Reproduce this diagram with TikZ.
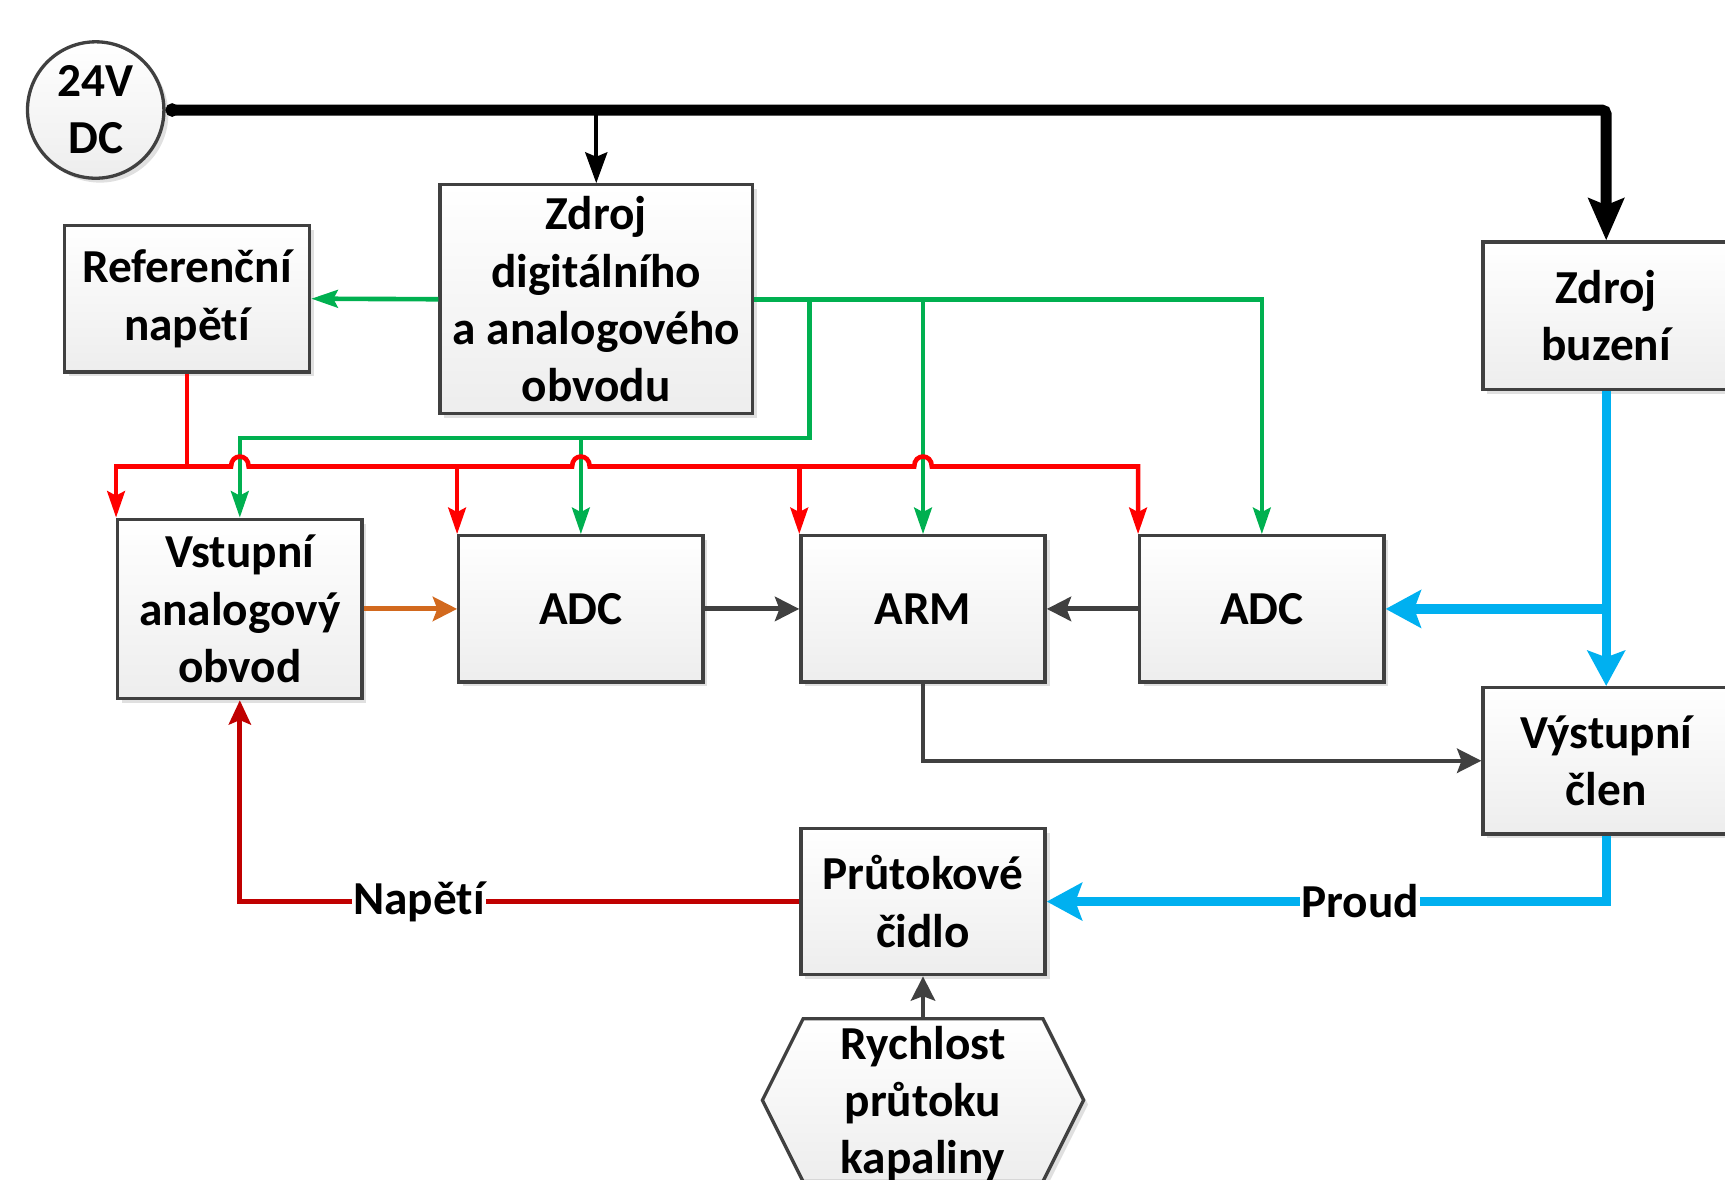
\documentclass[tikz,border=0pt]{standalone}
\usepackage{fontspec}
\setmainfont{Carlito}[Ligatures={NoCommon}]
\usetikzlibrary{arrows.meta,shadows}
\definecolor{boxc}{HTML}{404040}
\definecolor{grn}{HTML}{00B050}
\definecolor{rd}{HTML}{FF0000}
\definecolor{drd}{HTML}{C00000}
\definecolor{blu}{HTML}{00B0F0}
\definecolor{org}{HTML}{D2691E}
\definecolor{gry}{HTML}{404040}
\tikzset{
  txt/.style={font=\bfseries\fontsize{43}{52}\selectfont, align=center},
  box/.style={txt, draw=boxc, line width=3pt, top color=white, bottom color=black!7,
     general shadow={fill=black!12, shadow xshift=4pt, shadow yshift=-4pt},
     inner sep=0pt, minimum width=222pt, minimum height=133pt},
  gline/.style={draw=grn, line width=4.2pt, -{Stealth[length=24pt,width=16pt,inset=4pt]}},
  rline/.style={draw=rd, line width=4.2pt},
  rarr/.style={rline, -{Stealth[length=24pt,width=16pt,inset=4pt]}},
  garr/.style={draw=gry, line width=4.5pt, -{Stealth[length=22pt,width=22pt,inset=4pt]}},
  barr/.style={draw=blu, line width=8.5pt, -{Stealth[length=32pt,width=34pt,inset=6pt]}},
  lbl/.style={txt, fill=white, inner sep=1pt},
}
\begin{document}
\begin{tikzpicture}[x=1pt,y=-1pt]
\useasboundingbox (0,0) rectangle (1568,1072);
% nodes
\node[box, circle, minimum size=124pt, minimum width=124pt, minimum height=124pt] (dc) at (87,100) {24V\\DC};
\node[box, minimum width=223pt] (ref) at (170,271.5) {Referenční\\napětí};
\node[box, minimum width=284pt, minimum height=208pt] (zda) at (542,272) {Zdroj\\digitálního\\a analogového\\obvodu};
\node[box, minimum width=224pt, minimum height=134pt] (zb) at (1460,287) {Zdroj\\buzení};
\node[box, minimum height=163pt] (vao) at (218,553.5) {Vstupní\\analogový\\obvod};
\node[box] (adc1) at (528,553.5) {ADC};
\node[box] (arm) at (839,553.5) {ARM};
\node[box] (adc2) at (1147,553.5) {ADC};
\node[box, minimum width=224pt] (vc) at (1460,691.5) {Výstupní\\člen};
\node[box] (pc) at (839,819.5) {Průtokové\\čidlo};
% hexagon
\fill[black!12] (734,930) -- (952,930) -- (989,1004) -- (952,1078) -- (734,1078) -- (697,1004) -- cycle;
\shade[top color=white, bottom color=black!7, draw=boxc, line width=3pt, line join=miter]
  (730,926) -- (948,926) -- (985,1000) -- (948,1074) -- (730,1074) -- (693,1000) -- cycle;
\node[txt, minimum height=154pt, inner sep=0pt] (hex) at (839,1003) {Rychlost\\průtoku\\kapaliny};
% 24V bus
\draw[line width=10pt, rounded corners=4pt, {Circle[length=12pt]}-{Stealth[length=38pt,width=32pt,inset=6pt]}]
  (dc.east) -| (zb.north);
\draw[line width=3.5pt, -{Stealth[length=28pt,width=20pt,inset=4pt]}] (zda.north |- dc.east) -- (zda.north);
% green supply lines
\draw[gline] (zda.west) -- (ref.east);
\draw[gline] (zda.east) -| (adc2.north);
\draw[gline] (zda.east -| arm.north) -- (arm.north);
\coordinate (g1) at (736,272);
\coordinate (g2) at (736,398);
\draw[gline] (g1) -- (g2) -| (vao.north);
\draw[gline] (g2 -| adc1.north) -- (adc1.north);
% red reference lines
\coordinate (rr) at (170,424);
\draw[rline] (ref.south) -- (rr);
\draw[rarr] (rr) -| (vao.north west);
\draw[rarr] (rr) -- (210,424) .. controls (210,412) and (226,412) .. (226,424)
  -- (520,424) .. controls (520,412) and (536,412) .. (536,424)
  -- (831,424) .. controls (831,412) and (847,412) .. (847,424)
  -| (adc2.north west);
\draw[rarr] (adc1.north west |- rr) -- (adc1.north west);
\draw[rarr] (arm.north west |- rr) -- (arm.north west);
% signal path
\draw[draw=org, line width=4.5pt, -{Stealth[length=22pt,width=22pt,inset=4pt]}] (vao.east) -- (adc1.west);
\draw[garr] (adc1.east) -- (arm.west);
\draw[garr] (adc2.west) -- (arm.east);
\draw[garr, line width=4pt] (arm.south) |- (vc.west);
\draw[garr, line width=4pt] (hex.north) -- (pc.south);
% excitation
\draw[barr] (zb.south) -- (vc.north);
\draw[barr] (zb.south |- adc2.east) -- (adc2.east);
\draw[barr] (vc.south) |- node[lbl, pos=0.72] {Proud} (pc.east);
\draw[draw=drd, line width=4.5pt, -{Stealth[length=22pt,width=20pt,inset=4pt]}] (pc.west) -| node[lbl, pos=0.34] {Napětí} (vao.south);
\end{tikzpicture}
\end{document}
